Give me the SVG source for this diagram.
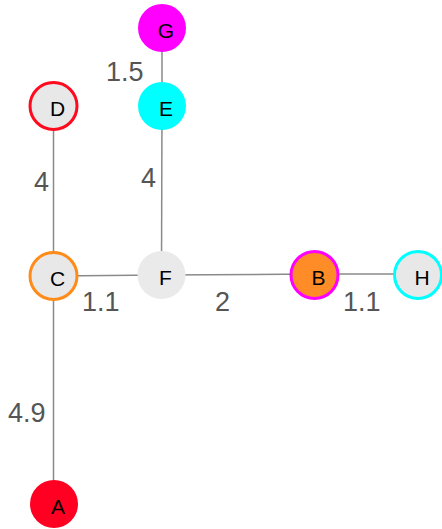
<svg xmlns="http://www.w3.org/2000/svg" width="442" height="529" viewBox="0 0 442 529">
<style>
.e{stroke:#8a8a8a;stroke-width:1.5;fill:none}
.lbl{font-family:"Liberation Sans",Arial,sans-serif;font-size:27px;fill:#555}
.n text{font-family:"Liberation Sans",Arial,sans-serif;font-size:21px;fill:#000;text-anchor:middle;dominant-baseline:central}
</style>
<rect width="442" height="529" fill="#fff"/>
<g id="edges">
<line class="e" x1="162" y1="28" x2="162" y2="106"/>
<line class="e" x1="162" y1="106" x2="161.5" y2="275"/>
<line class="e" x1="53.5" y1="106" x2="53.5" y2="276"/>
<line class="e" x1="53.5" y1="276" x2="53.5" y2="504"/>
<line class="e" x1="53.5" y1="276" x2="161.5" y2="275"/>
<line class="e" x1="161.5" y1="275" x2="314.5" y2="274"/>
<line class="e" x1="314.5" y1="274" x2="418" y2="274"/>
</g>
<g id="labels">
<text class="lbl" x="106" y="81">1.5</text>
<text class="lbl" x="34" y="191">4</text>
<text class="lbl" x="141" y="187">4</text>
<text class="lbl" x="82" y="311">1.1</text>
<text class="lbl" x="215" y="311">2</text>
<text class="lbl" x="343" y="311">1.1</text>
<text class="lbl" x="8" y="422">4.9</text>
</g>
<g id="G" class="n"><circle cx="162" cy="28" r="24" fill="#ff00ff"/><text x="166" y="30">G</text></g>
<g id="E" class="n"><circle cx="162" cy="106" r="24" fill="#00ffff"/><text x="166" y="108">E</text></g>
<g id="D" class="n"><circle cx="53.5" cy="106" r="23.5" fill="#e8e8e8" stroke="#ff0a1e" stroke-width="3"/><text x="57.5" y="108">D</text></g>
<g id="C" class="n"><circle cx="53.5" cy="276" r="23.5" fill="#e8e8e8" stroke="#ff8c1a" stroke-width="3"/><text x="57.5" y="278">C</text></g>
<g id="F" class="n"><circle cx="161.5" cy="275" r="24" fill="#eaeaea"/><text x="165.5" y="277">F</text></g>
<g id="B" class="n"><circle cx="314.5" cy="275" r="23.5" fill="#ff8c26" stroke="#ff00ff" stroke-width="3"/><text x="318.5" y="277">B</text></g>
<g id="H" class="n"><circle cx="418" cy="275" r="23.5" fill="#e8e8e8" stroke="#00ffff" stroke-width="3"/><text x="422" y="277">H</text></g>
<g id="A" class="n"><circle cx="54" cy="504" r="24" fill="#ff0022"/><text x="58" y="506">A</text></g>
</svg>
